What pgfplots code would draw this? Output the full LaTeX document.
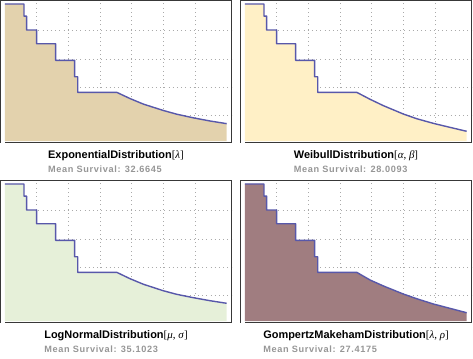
\documentclass[border=0pt]{standalone}
\usepackage{fontspec}
\setmainfont{Liberation Sans}
\newfontfamily\serif{Liberation Serif}
\newfontfamily\subfont[LetterSpace=7]{Liberation Sans}
\usepackage{pgfplots}
\usepackage{pgfplotstable}
\pgfplotsset{compat=1.18}
\definecolor{fillA}{RGB}{227,210,173}
\definecolor{fillB}{RGB}{255,240,198}
\definecolor{fillC}{RGB}{230,240,217}
\definecolor{fillD}{RGB}{160,125,128}
\definecolor{kmline}{RGB}{88,88,170}
\definecolor{subgray}{RGB}{150,150,150}
\definecolor{gridgray}{RGB}{170,170,170}

\pgfplotstableread{
t s
0 0.988
6.0 0.988
6.0 0.902
6.85 0.902
6.85 0.804
10.0 0.804
10.0 0.707
16.0 0.707
16.0 0.590
22.0 0.590
22.0 0.474
22.96 0.474
22.96 0.364
35.3 0.364
39.5 0.320
43.7 0.281
50.0 0.236
54.2 0.210
59.5 0.184
64.7 0.162
70.0 0.143
}\tA
\pgfplotstableread{
t s
0 0.988
6.0 0.988
6.0 0.902
6.85 0.902
6.85 0.804
10.0 0.804
10.0 0.707
16.0 0.707
16.0 0.590
22.0 0.590
22.0 0.474
22.96 0.474
22.96 0.364
35.3 0.364
39.5 0.315
43.7 0.270
50.0 0.211
54.2 0.178
59.5 0.145
64.7 0.117
70.0 0.089
}\tB
\pgfplotstableread{
t s
0 0.988
6.0 0.988
6.0 0.902
6.85 0.902
6.85 0.804
10.0 0.804
10.0 0.707
16.0 0.707
16.0 0.590
22.0 0.590
22.0 0.474
22.96 0.474
22.96 0.364
35.3 0.364
39.5 0.319
43.7 0.280
50.0 0.234
54.2 0.209
59.5 0.185
64.7 0.164
70.0 0.1455
}\tC
\pgfplotstableread{
t s
0 0.988
6.0 0.988
6.0 0.902
6.85 0.902
6.85 0.804
10.0 0.804
10.0 0.707
16.0 0.707
16.0 0.590
22.0 0.590
22.0 0.474
22.96 0.474
22.96 0.364
35.3 0.364
39.5 0.310
43.7 0.268
50.0 0.211
54.2 0.178
59.5 0.1405
64.7 0.110
70.0 0.079
}\tD

\pgfplotsset{
  kmpanel/.style={
    scale only axis,
    width=231bp, height=142.3bp,
    anchor=north west,
    xmin=-1.42, xmax=71.53,
    ymin=0.0078, ymax=1.0124,
    xtick={10,20,30,40,50,60},
    ytick={0.2,0.4,0.6,0.8},
    xticklabels={}, yticklabels={},
    major tick length=0pt,
    grid=major,
    major grid style={draw=gridgray, line width=0.7bp, dash pattern=on 0.8bp off 3.4bp},
    axis line style={draw=black!78, line width=1.2bp},
  },
  kmline/.style={draw=kmline, line width=1.4bp, line join=round},
}

\begin{document}
\begin{tikzpicture}
\path[use as bounding box] (0,0) rectangle (473bp,-359bp);

\begin{axis}[kmpanel, at={(0.5bp,-0.5bp)}]
\addplot[fill=white, draw=none] coordinates {(-1.42,0.0078) (0,0.0078) (0,1.0124) (-1.42,1.0124)} -- cycle;
\addplot[fill=fillA, draw=none] table {\tA} -- (axis cs:70,0.02) -- (axis cs:0,0.02) -- cycle;
\addplot[kmline] table {\tA};
\end{axis}

\begin{axis}[kmpanel, at={(240.5bp,-0.5bp)}]
\addplot[fill=white, draw=none] coordinates {(-1.42,0.0078) (0,0.0078) (0,1.0124) (-1.42,1.0124)} -- cycle;
\addplot[fill=fillB, draw=none] table {\tB} -- (axis cs:70,0.02) -- (axis cs:0,0.02) -- cycle;
\addplot[kmline] table {\tB};
\end{axis}

\begin{axis}[kmpanel, at={(0.5bp,-180.5bp)}]
\addplot[fill=white, draw=none] coordinates {(-1.42,0.0078) (0,0.0078) (0,1.0124) (-1.42,1.0124)} -- cycle;
\addplot[fill=fillC, draw=none] table {\tC} -- (axis cs:70,0.02) -- (axis cs:0,0.02) -- cycle;
\addplot[kmline] table {\tC};
\end{axis}

\begin{axis}[kmpanel, at={(240.5bp,-180.5bp)}]
\addplot[fill=white, draw=none] coordinates {(-1.42,0.0078) (0,0.0078) (0,1.0124) (-1.42,1.0124)} -- cycle;
\addplot[fill=fillD, draw=none] table {\tD} -- (axis cs:70,0.02) -- (axis cs:0,0.02) -- cycle;
\addplot[kmline] table {\tD};
\end{axis}

\tikzset{ttl/.style={anchor=base, inner sep=0pt, font=\fontsize{11}{13}\selectfont\bfseries},
         sub/.style={anchor=base west, inner sep=0pt, text=subgray, font=\subfont\fontsize{9.2}{10}\selectfont\bfseries}}

\node[ttl] (t1) at (116bp,-158.3bp) {ExponentialDistribution{\mdseries\serif[\textit{λ}]}};
\node[sub] at ([yshift=-14.4bp]t1.base west) {Mean Survival: 32.6645};

\node[ttl] (t2) at (356bp,-158.3bp) {WeibullDistribution{\mdseries\serif[\textit{α}, \textit{β}]}};
\node[sub] at ([yshift=-14.4bp]t2.base west) {Mean Survival: 28.0093};

\node[ttl] (t3) at (116bp,-338.3bp) {LogNormalDistribution{\mdseries\serif[\textit{μ}, \textit{σ}]}};
\node[sub] at ([yshift=-14.4bp]t3.base west) {Mean Survival: 35.1023};

\node[ttl] (t4) at (356bp,-338.3bp) {GompertzMakehamDistribution{\mdseries\serif[\textit{λ}, \textit{ρ}]}};
\node[sub] at ([yshift=-14.4bp]t4.base west) {Mean Survival: 27.4175};
\end{tikzpicture}
\end{document}
